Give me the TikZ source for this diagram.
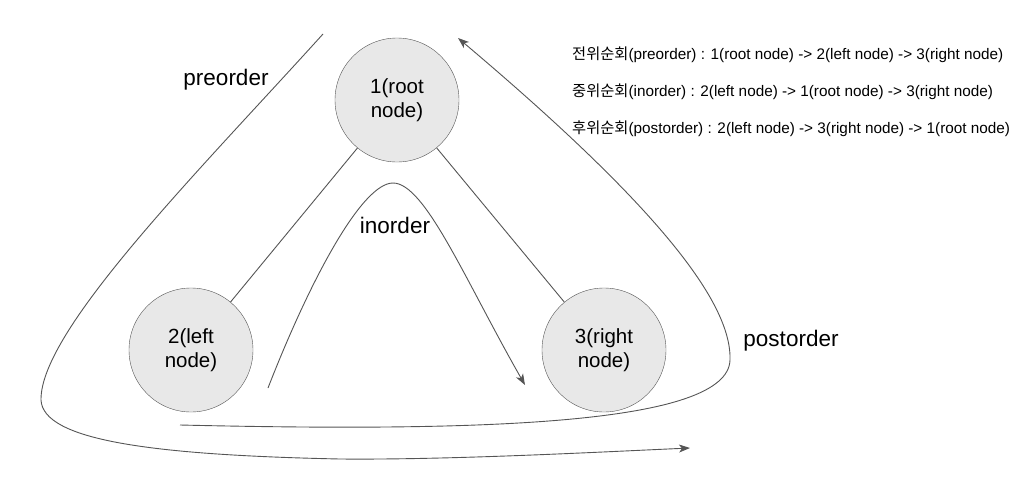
\documentclass[tikz,border=0pt]{standalone}
\usepackage{fontspec}
\setmainfont{Liberation Sans}
\newfontfamily\krfont{Noto Sans CJK KR}
\usetikzlibrary{arrows.meta}
\definecolor{linegray}{HTML}{555555}
\definecolor{nodefill}{HTML}{E8E8E8}

\begin{document}
\begin{tikzpicture}[
  x=1pt, y=-1pt,
  every node/.style={draw=linegray,circle,fill=nodefill,minimum size=124pt,
    inner sep=0pt,align=center,font=\fontsize{20.5}{24}\selectfont},
  edge/.style={linegray,line width=0.9pt},
  walk/.style={linegray,line width=0.9pt,-{Stealth[length=11pt,width=8pt,inset=3pt]}},
  lbl/.style={draw=none,fill=none,shape=rectangle,minimum size=0pt,
    font=\fontsize{22.5}{26}\selectfont},
  note/.style={lbl,anchor=west,font=\fontsize{15.3}{18}\selectfont}
  ]

  \useasboundingbox (0,0) rectangle (1029,485);

  \node (root)  at (397,100) {1(root\\node)};
  \node (left)  at (191,350) {2(left\\node)};
  \node (right) at (604,350) {3(right\\node)};

  \draw[edge] (root) -- (left);
  \draw[edge] (root) -- (right);

  % traversal curves
  \coordinate (pre-s)  at (323,34);
  \coordinate (pre-e)  at (690,448);
  \coordinate (in-s)   at (268,388);
  \coordinate (in-e)   at (525,385);
  \coordinate (post-s) at (180,425);
  \coordinate (post-e) at (458,38);

  \draw[walk] (pre-s) .. controls (200,170) and (40,330) .. (41,400)
    .. controls (43,440) and (150,455) .. (340,459)
    .. controls (450,460) and (600,452) .. (pre-e);
  \draw[walk] (in-s) .. controls (310,280) and (362,183) .. (393,183)
    .. controls (425,183) and (465,280) .. (in-e);
  \draw[walk] (post-s) .. controls (480,432) and (728,425) .. (730,360)
    .. controls (732,300) and (650,200) .. (post-e);

  \node[lbl] (pre-lbl)  at (226,80)  {preorder};
  \node[lbl] (in-lbl)   at (395,225) {inorder};
  \node[lbl] (post-lbl) at (791,341) {postorder};

  \node[note] (note-pre)  at (572,55)  {{\krfont 전위순회}(preorder) : 1(root node) -> 2(left node) -> 3(right node)};
  \node[note] (note-in)   at (572,92)  {{\krfont 중위순회}(inorder) : 2(left node) -> 1(root node) -> 3(right node)};
  \node[note] (note-post) at (572,129) {{\krfont 후위순회}(postorder) : 2(left node) -> 3(right node) -> 1(root node)};
\end{tikzpicture}
\end{document}
